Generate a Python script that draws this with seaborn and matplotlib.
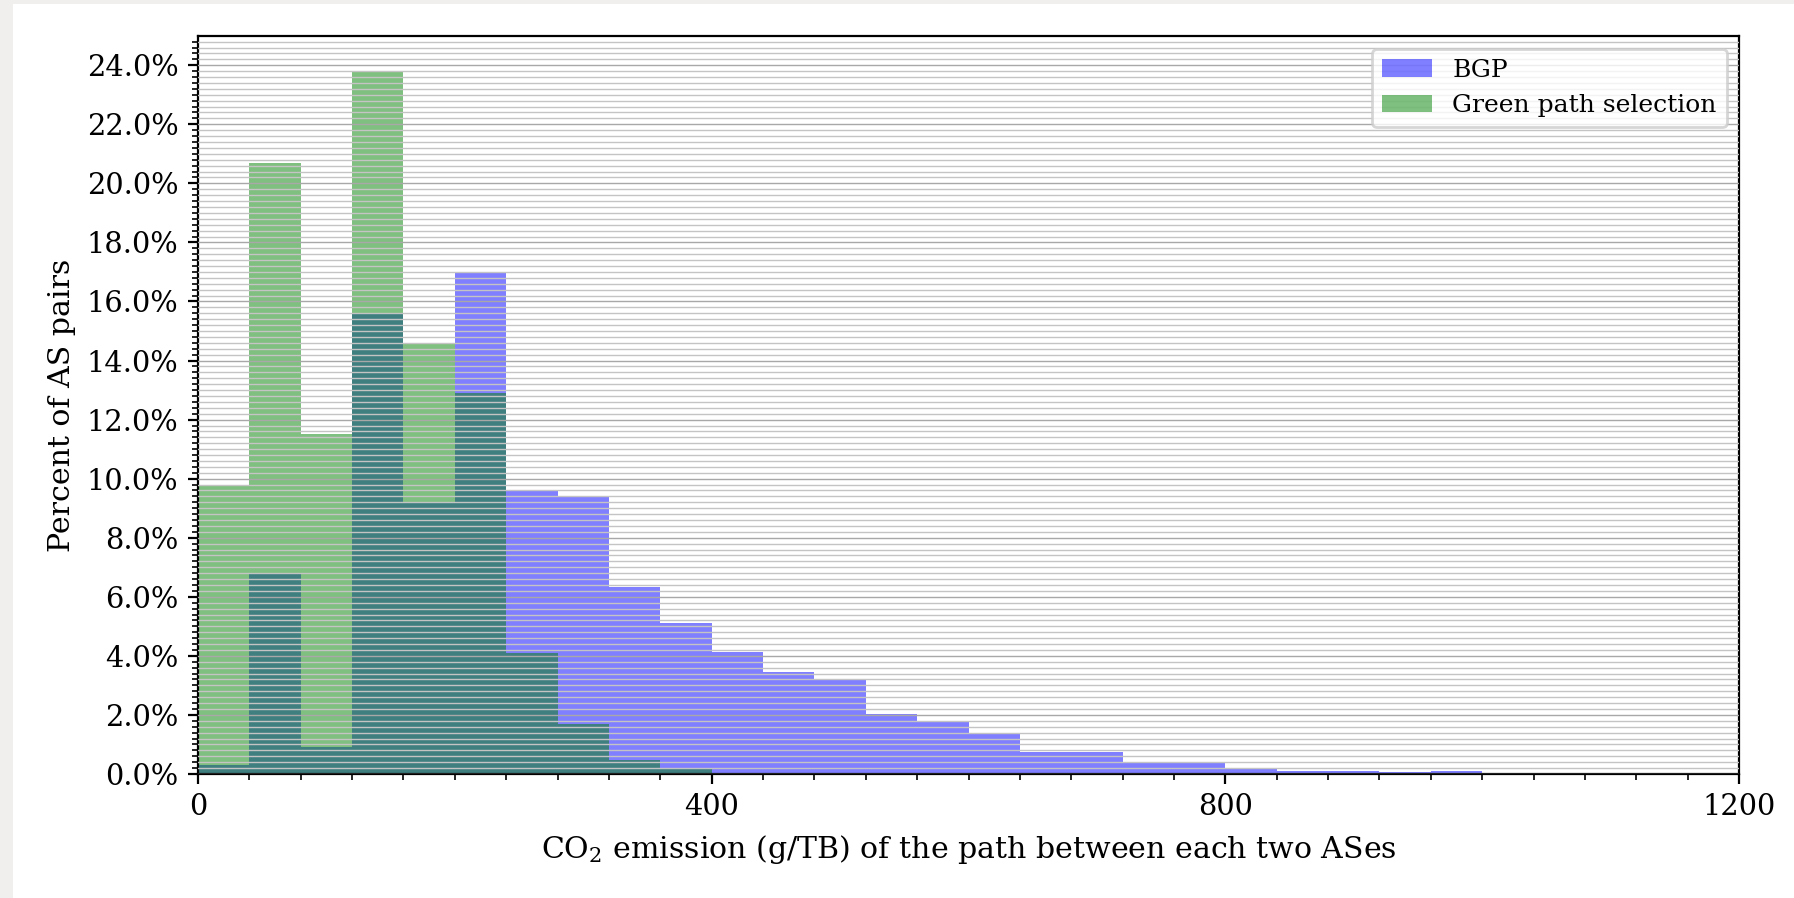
import numpy as np
import pandas as pd
import matplotlib
matplotlib.use("Agg")
import matplotlib.pyplot as plt
from matplotlib.ticker import MultipleLocator, PercentFormatter
from matplotlib.patches import Rectangle
import seaborn as sns

# Bords des classes (g/TB), largeur 40
bin_edges = list(range(0, 1201, 40))

# Pourcentage de paires d'AS par classe
bgp_pct = [0.31, 6.78, 0.92, 15.59, 9.19, 16.97, 9.58, 9.38, 6.32, 5.11,
           4.13, 3.45, 3.20, 2.03, 1.79, 1.39, 0.76, 0.76, 0.38, 0.41,
           0.21, 0.11, 0.11, 0.08, 0.11, 0.04, 0.0, 0.04, 0.0, 0.0]
green_pct = [9.80, 20.70, 11.50, 23.80, 14.60, 12.90, 4.10, 1.70, 0.47, 0.21,
             0.05, 0.0, 0.0, 0.0, 0.0, 0.0, 0.0, 0.0, 0.0, 0.0,
             0.0, 0.0, 0.0, 0.0, 0.0, 0.0, 0.0, 0.0, 0.0, 0.0]
series_labels = ["BGP", "Green path selection"]

centers = [(a + b) / 2 for a, b in zip(bin_edges[:-1], bin_edges[1:])]
df = pd.DataFrame({"co2": centers, "bgp": bgp_pct, "green": green_pct})

plt.rcParams["font.family"] = ["DejaVu Serif"]
plt.rcParams["mathtext.fontset"] = "dejavuserif"
plt.rcParams["font.size"] = 10.4

fig = plt.figure(figsize=(8.97, 4.49), dpi=200)
# bande grise de la capture (haut et gauche)
fig.patch.set_facecolor("#f0efed")
fig.add_artist(Rectangle((13 / 1794, 0), 1, 1 - 4 / 898, transform=fig.transFigure,
                         facecolor="white", edgecolor="none", zorder=-10))
ax = fig.add_axes([198 / 1794, 1 - 774 / 898, (1739 - 198) / 1794, (774 - 36) / 898])

sns.histplot(data=df, x="co2", weights="bgp", bins=bin_edges, color="blue",
             alpha=0.5, linewidth=0, label=series_labels[0], ax=ax)
sns.histplot(data=df, x="co2", weights="green", bins=bin_edges, color="green",
             alpha=0.5, linewidth=0, label=series_labels[1], ax=ax)

ax.set_xlim(0, 1200)
ax.set_ylim(0, max(green_pct) * 1.05)
ax.xaxis.set_major_locator(MultipleLocator(400))
ax.xaxis.set_minor_locator(MultipleLocator(40))
ax.yaxis.set_major_locator(MultipleLocator(2))
ax.yaxis.set_minor_locator(MultipleLocator(0.2))
ax.yaxis.set_major_formatter(PercentFormatter(xmax=100, decimals=1))

ax.set_axisbelow(False)
ax.grid(False)
ax.grid(which="major", axis="y", color="#a8a8a8", linewidth=0.5)
ax.grid(which="minor", axis="y", color="#c4c4c4", linewidth=0.5)

ax.set_xlabel(r"CO$_2$ emission (g/TB) of the path between each two ASes", fontsize=10.8)
ax.set_ylabel("Percent of AS pairs", fontsize=10.8)
ax.legend(loc="upper right", fontsize=9.0)

fig.savefig("out.png", dpi=200, facecolor=fig.get_facecolor())
